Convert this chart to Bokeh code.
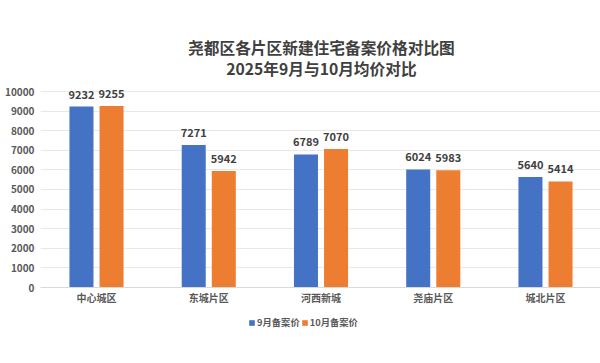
from bokeh.plotting import figure
from bokeh.models import (ColumnDataSource, LabelSet, Label, Legend, LegendItem,
                          FixedTicker, Range1d)
from bokeh.layouts import column
from bokeh.transform import dodge
from bokeh.core.properties import value
from bokeh.embed import file_html
from bokeh.resources import INLINE

title_lines = ["尧都区各片区新建住宅备案价格对比图", "2025年9月与10月均价对比"]
regions = ["中心城区", "东城片区", "河西新城", "尧庙片区", "城北片区"]
sep_price = [9232, 7271, 6789, 6024, 5640]
oct_price = [9255, 5942, 7070, 5983, 5414]
series_names = ["9月备案价", "10月备案价"]
y_ticks = list(range(0, 10001, 1000))

FONT = "Noto Sans CJK SC"
BLUE = "#4472C4"
ORANGE = "#ED7D31"
W = 600

# ---- title figure ----
TH = 83
tf = figure(width=W, height=TH, output_backend="svg", toolbar_location=None,
            x_range=Range1d(0, W), y_range=Range1d(0, TH), min_border=0,
            outline_line_color=None)
tf.axis.visible = False
tf.grid.visible = False
for txt, yy in zip(title_lines, (TH - 47, TH - 68)):
    tf.add_layout(Label(x=301, y=yy, text=txt, text_align="center",
                        text_baseline="middle", text_font=FONT,
                        text_font_style="bold", text_font_size="15.7px",
                        text_color="#404040"))

# ---- main chart ----
idx = list(range(len(regions)))
src = ColumnDataSource(dict(
    x=idx, sep=sep_price, oct=oct_price,
    sep_txt=[str(v) for v in sep_price], oct_txt=[str(v) for v in oct_price],
))

p = figure(width=W, height=227, output_backend="svg", toolbar_location=None,
           x_range=Range1d(-0.499, 4.490), y_range=Range1d(0, 10408),
           min_border_left=40, min_border_right=0, min_border_bottom=23,
           min_border_top=0)
p.outline_line_color = None

off = 0.134
w = 0.214
p.vbar(x=dodge("x", -off, range=p.x_range), top="sep", width=w, source=src,
       fill_color=BLUE, line_color=None)
p.vbar(x=dodge("x", off, range=p.x_range), top="oct", width=w, source=src,
       fill_color=ORANGE, line_color=None)

for col, txt, d in (("sep", "sep_txt", -off), ("oct", "oct_txt", off)):
    p.add_layout(LabelSet(x=dodge("x", d, range=p.x_range), y=col, text=txt, source=src,
                          text_align="center", text_baseline="alphabetic", y_offset=8,
                          text_font=value(FONT), text_font_style="bold",
                          text_font_size="11px", text_color="#404040"))

p.yaxis.ticker = FixedTicker(ticks=y_ticks)
p.yaxis.axis_line_color = None
p.yaxis.major_tick_line_color = None
p.yaxis.minor_tick_line_color = None
p.yaxis.major_tick_out = 0
p.yaxis.major_label_standoff = 6
p.yaxis.major_label_text_font = FONT
p.yaxis.major_label_text_font_style = "bold"
p.yaxis.major_label_text_font_size = "10px"
p.yaxis.major_label_text_color = "#595959"

p.xaxis.ticker = FixedTicker(ticks=idx)
p.xaxis.major_label_overrides = {i: r for i, r in zip(idx, regions)}
p.xaxis.axis_line_color = "#d9d9d9"
p.xaxis.major_tick_line_color = None
p.xaxis.minor_tick_line_color = None
p.xaxis.major_tick_out = 0
p.xaxis.major_label_standoff = 2
p.xaxis.major_label_text_font = FONT
p.xaxis.major_label_text_font_style = "bold"
p.xaxis.major_label_text_font_size = "10px"
p.xaxis.major_label_text_color = "#595959"

p.xgrid.grid_line_color = None
p.ygrid.grid_line_color = "#e8e8e8"
p.ygrid.ticker = FixedTicker(ticks=y_ticks)

# ---- legend figure ----
LH = 53
lg = figure(width=W, height=LH, output_backend="svg", toolbar_location=None,
            x_range=Range1d(0, 1), y_range=Range1d(0, 1),
            min_border=0, outline_line_color=None)
lg.axis.visible = False
lg.grid.visible = False
swatch = ColumnDataSource(dict(x=[-5], top=[-5]))
l1 = lg.vbar(x="x", top="top", width=0.1, source=swatch, fill_color=BLUE, line_color=None)
l2 = lg.vbar(x="x", top="top", width=0.1, source=swatch, fill_color=ORANGE, line_color=None)
legend = Legend(items=[LegendItem(label=series_names[0], renderers=[l1]),
                       LegendItem(label=series_names[1], renderers=[l2])],
                orientation="horizontal", location=(208, LH - 19),
                glyph_width=7, glyph_height=7, label_standoff=2, spacing=1,
                padding=0, margin=0, border_line_color=None,
                background_fill_alpha=0,
                label_text_font=FONT, label_text_font_style="bold",
                label_text_font_size="9.3px", label_text_color="#595959")
lg.add_layout(legend)

open("out.html", "w").write(file_html(column(tf, p, lg, spacing=0), INLINE))
